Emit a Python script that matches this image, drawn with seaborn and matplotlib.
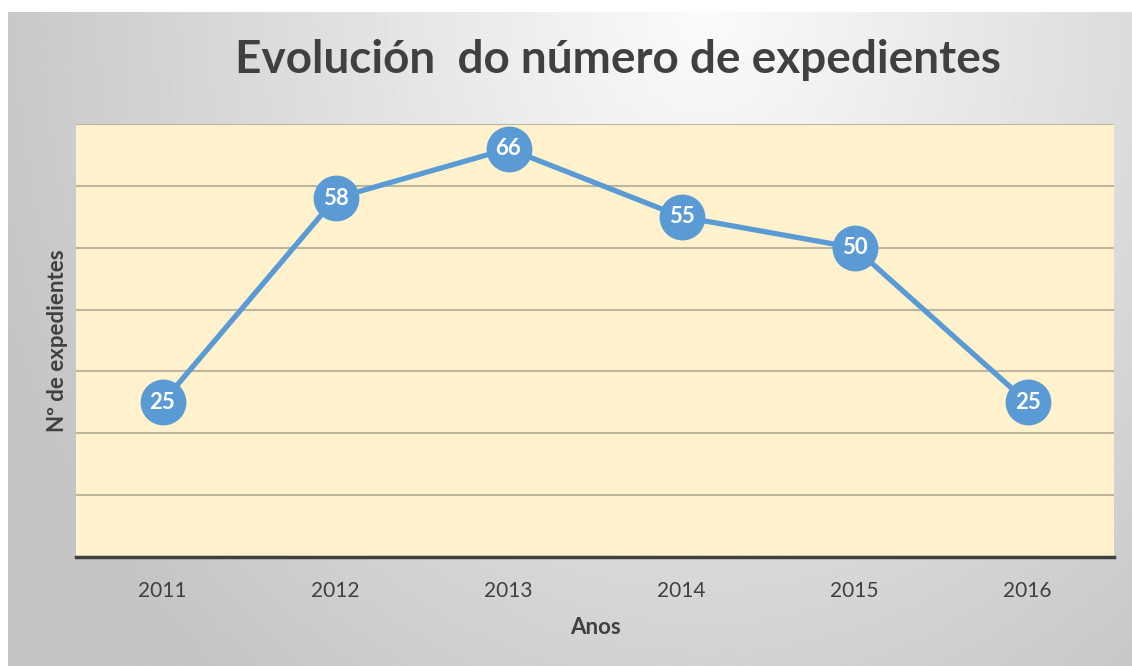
import numpy as np
import pandas as pd
import matplotlib
matplotlib.use('Agg')
import matplotlib.pyplot as plt
import seaborn as sns

anos = ['2011', '2012', '2013', '2014', '2015', '2016']
expedientes = [25, 58, 66, 55, 50, 25]

df = pd.DataFrame({'Anos': anos, 'Expedientes': expedientes})

sns.set_style('white')
plt.rcParams['font.family'] = ['Lato', 'DejaVu Sans']

fig = plt.figure(figsize=(11.32, 6.66), dpi=100)
fig.patch.set_facecolor('white')

# grey radial gradient background
bg = fig.add_axes([8 / 1132, 0, 1 - 8 / 1132, 1 - 12 / 666])
yy, xx = np.mgrid[0:1:300j, 0:1:500j]
dist = np.sqrt((xx - 0.62) ** 2 + (0.5 * yy) ** 2)
shade = np.clip(0.985 - 0.32 * dist, 0.77, 1.0)
bg.imshow(shade, cmap='gray', vmin=0, vmax=1, aspect='auto', extent=[0, 1, 1, 0])
bg.set_axis_off()

ax = fig.add_axes([76 / 1132, 109 / 666, 1038 / 1132, 433 / 666])
ax.set_facecolor('#FFF2CC')

sns.lineplot(data=df, x='Anos', y='Expedientes', ax=ax, color='#5B9BD5',
             linewidth=3.8, marker='o', markersize=33, markeredgewidth=0, sort=False)

for i, v in enumerate(expedientes):
    ax.text(i, v, str(v), ha='center', va='center', color='white',
            fontsize=16, fontweight='bold')

ax.set_xlim(-0.5, 5.5)
ax.set_ylim(0, 70)
ax.set_yticks(range(0, 71, 10))
ax.set_yticklabels([])
ax.yaxis.grid(True, color='#BDB59F', linewidth=1.5)
ax.set_axisbelow(True)
ax.tick_params(axis='both', length=0)
ax.tick_params(axis='x', labelsize=15, labelcolor='#404040', pad=17)
for s in ['top', 'right', 'left']:
    ax.spines[s].set_visible(False)
ax.spines['bottom'].set_color('#404040')
ax.spines['bottom'].set_linewidth(2.5)

ax.set_xlabel('Anos', fontsize=16, fontweight='bold', color='#404040', labelpad=12)
ax.set_ylabel('Nº de expedientes', fontsize=16, fontweight='bold', color='#404040', labelpad=2)

fig.text(618 / 1132, 1 - 60 / 666, 'Evolución  do número de expedientes', ha='center', va='center',
         fontsize=33, fontweight='bold', color='#404040')

fig.savefig('out.png', dpi=100)
